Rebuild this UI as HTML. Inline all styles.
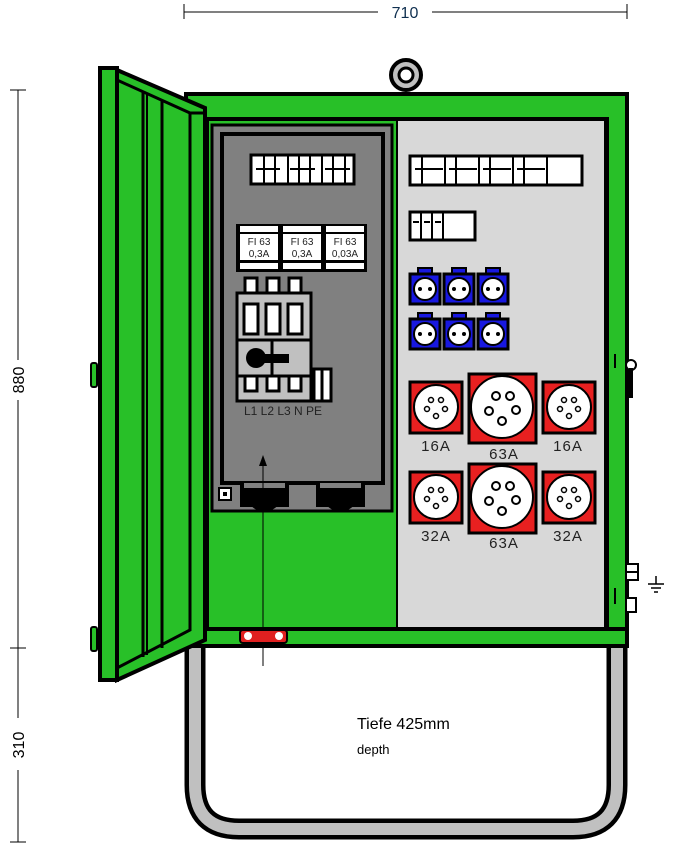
<!DOCTYPE html>
<html><head><style>html,body{margin:0;padding:0;background:#fff}svg{display:block}</style></head><body>
<svg width="674" height="848" viewBox="0 0 674 848" xmlns="http://www.w3.org/2000/svg" font-family="'Liberation Sans', sans-serif">
<!-- dimensions -->
<g stroke="#000" stroke-width="1">
<line x1="184" y1="12" x2="378" y2="12"/><line x1="432" y1="12" x2="627" y2="12"/>
<line x1="184" y1="4" x2="184" y2="19"/><line x1="627" y1="4" x2="627" y2="19"/>
<line x1="18" y1="90" x2="18" y2="360"/><line x1="18" y1="400" x2="18" y2="718"/><line x1="18" y1="770" x2="18" y2="842"/>
<line x1="10" y1="90" x2="26" y2="90"/><line x1="10" y1="648" x2="26" y2="648"/><line x1="10" y1="842" x2="26" y2="842"/>
</g>
<text x="405" y="18" font-size="16" text-anchor="middle" fill="#103050">710</text>
<text transform="translate(24,380) rotate(-90)" font-size="16" text-anchor="middle">880</text>
<text transform="translate(24,745) rotate(-90)" font-size="16" text-anchor="middle">310</text>
<!-- ring -->
<circle cx="406" cy="75" r="15" fill="#c0c0c0" stroke="#000" stroke-width="4"/>
<circle cx="406" cy="75" r="7" fill="#fff" stroke="#000" stroke-width="3"/>
<!-- bottom frame -->
<path d="M195 645 V785 Q195 829 239 829 H573 Q617 829 617 785 V645" fill="none" stroke="#000" stroke-width="21"/>
<path d="M195 645 V785 Q195 829 239 829 H573 Q617 829 617 785 V645" fill="none" stroke="#c0c0c0" stroke-width="12"/>
<!-- body -->
<rect x="186" y="94" width="441" height="552" fill="#28c028" stroke="#000" stroke-width="4"/>
<rect x="207" y="119" width="400" height="510" fill="#28c028" stroke="#000" stroke-width="4"/>
<rect x="397" y="120" width="208" height="508" fill="#d8d8d8" stroke="#000" stroke-width="2"/>
<line x1="186" y1="629" x2="627" y2="629" stroke="#000" stroke-width="4"/>
<line x1="607" y1="119" x2="607" y2="629" stroke="#000" stroke-width="4"/>
<!-- left gray panel -->
<rect x="212" y="125" width="180" height="386" fill="#808080" stroke="#000" stroke-width="3"/>
<rect x="222" y="134" width="161" height="349" fill="#808080" stroke="#000" stroke-width="4"/>
<!-- top breakers left -->
<rect x="251" y="155" width="103" height="29" fill="#fff" stroke="#000" stroke-width="3"/>
<g stroke="#000" stroke-width="2"><line x1="264" y1="155" x2="264" y2="184"/><line x1="275" y1="155" x2="275" y2="184"/><line x1="288" y1="155" x2="288" y2="184"/><line x1="299" y1="155" x2="299" y2="184"/><line x1="310" y1="155" x2="310" y2="184"/><line x1="322" y1="155" x2="322" y2="184"/><line x1="333" y1="155" x2="333" y2="184"/><line x1="345" y1="155" x2="345" y2="184"/>
<line x1="256" y1="169" x2="280" y2="169"/><line x1="290" y1="169" x2="315" y2="169"/><line x1="325" y1="169" x2="350" y2="169"/></g>
<!-- FI -->
<g>
<rect x="236" y="224" width="131" height="48" fill="#000"/>
<rect x="240" y="234" width="38" height="26" fill="#fff"/><rect x="283" y="234" width="38" height="26" fill="#fff"/><rect x="326" y="234" width="38" height="26" fill="#fff"/>
<g fill="#fff"><rect x="240" y="226" width="38" height="6"/><rect x="283" y="226" width="38" height="6"/><rect x="326" y="226" width="38" height="6"/><rect x="240" y="263" width="38" height="6"/><rect x="283" y="263" width="38" height="6"/><rect x="326" y="263" width="38" height="6"/></g>
<g font-size="10" text-anchor="middle" fill="#222"><text x="259" y="245">FI 63</text><text x="259" y="257">0,3A</text><text x="302" y="245">FI 63</text><text x="302" y="257">0,3A</text><text x="345" y="245">FI 63</text><text x="345" y="257">0,03A</text></g>
</g>
<!-- switch -->
<g stroke="#000" stroke-width="3">
<rect x="245" y="278" width="12" height="15" fill="#fff"/><rect x="267" y="278" width="12" height="15" fill="#fff"/><rect x="289" y="278" width="12" height="15" fill="#fff"/>
<rect x="237" y="293" width="74" height="108" fill="#c0c0c0"/>
<line x1="237" y1="340" x2="311" y2="340"/><line x1="237" y1="376" x2="311" y2="376"/><line x1="272" y1="340" x2="272" y2="376"/>
<rect x="244" y="304" width="14" height="30" fill="#fff"/><rect x="266" y="304" width="14" height="30" fill="#fff"/><rect x="288" y="304" width="14" height="30" fill="#fff"/>
<rect x="245" y="376" width="12" height="15" fill="#fff"/><rect x="267" y="376" width="12" height="15" fill="#fff"/><rect x="289" y="376" width="12" height="15" fill="#fff"/>
<rect x="314" y="369" width="17" height="32" fill="#fff"/><line x1="322" y1="369" x2="322" y2="401"/>
</g>
<circle cx="256" cy="358" r="10" fill="#000"/><rect x="256" y="354" width="33" height="9" fill="#000"/>
<text x="244" y="415" font-size="12" fill="#222">L1 L2 L3 N PE</text>
<!-- glands -->
<rect x="219" y="488" width="12" height="12" fill="#fff" stroke="#000" stroke-width="2"/><rect x="223" y="492" width="4" height="4" fill="#000"/>
<rect x="240" y="483" width="49" height="24" fill="#000"/><path d="M246 500 Q264 524 283 500Z" fill="#000"/>
<rect x="316" y="483" width="49" height="24" fill="#000"/><path d="M322 500 Q340 524 359 500Z" fill="#000"/>
<rect x="244" y="483" width="41" height="5" fill="#808080"/><rect x="320" y="483" width="41" height="5" fill="#808080"/>
<!-- arrow -->
<line x1="263" y1="462" x2="263" y2="666" stroke="#000" stroke-width="1"/>
<polygon points="263,455 259,466 267,466" fill="#000"/>
<!-- bottom red -->
<rect x="240" y="630" width="47" height="13" rx="3" fill="#e02020" stroke="#000" stroke-width="2"/>
<circle cx="248" cy="636" r="4" fill="#fff"/><circle cx="279" cy="636" r="4" fill="#fff"/>
<!-- right breakers -->
<rect x="410" y="156" width="172" height="29" fill="#fff" stroke="#000" stroke-width="3"/>
<g stroke="#000" stroke-width="2"><line x1="422" y1="156" x2="422" y2="185"/><line x1="445" y1="156" x2="445" y2="185"/><line x1="456" y1="156" x2="456" y2="185"/><line x1="479" y1="156" x2="479" y2="185"/><line x1="490" y1="156" x2="490" y2="185"/><line x1="513" y1="156" x2="513" y2="185"/><line x1="524" y1="156" x2="524" y2="185"/><line x1="547" y1="156" x2="547" y2="185"/>
<line x1="415" y1="169" x2="443" y2="169"/><line x1="449" y1="169" x2="477" y2="169"/><line x1="483" y1="169" x2="511" y2="169"/><line x1="517" y1="169" x2="545" y2="169"/></g>
<rect x="410" y="212" width="65" height="28" fill="#fff" stroke="#000" stroke-width="3"/>
<g stroke="#000" stroke-width="2"><line x1="421" y1="212" x2="421" y2="240"/><line x1="432" y1="212" x2="432" y2="240"/><line x1="443" y1="212" x2="443" y2="240"/><line x1="413" y1="222" x2="419" y2="222"/><line x1="424" y1="222" x2="430" y2="222"/><line x1="435" y1="222" x2="441" y2="222"/></g>
<!-- blue sockets -->
<g id="b">
<rect x="418" y="268" width="14" height="8" fill="#1818e0" stroke="#000" stroke-width="2"/>
<rect x="410" y="274" width="30" height="30" fill="#1818e0" stroke="#000" stroke-width="3"/>
<circle cx="425" cy="289" r="11" fill="#fff" stroke="#000" stroke-width="2"/>
<circle cx="420" cy="289" r="2" fill="#000"/><circle cx="430" cy="289" r="2" fill="#000"/>
</g>
<use href="#b" x="34"/><use href="#b" x="68"/>
<use href="#b" y="45"/><use href="#b" x="34" y="45"/><use href="#b" x="68" y="45"/>
<!-- red sockets small -->
<g id="s">
<rect x="410" y="382" width="52" height="51" fill="#e82020" stroke="#000" stroke-width="3"/>
<circle cx="436" cy="407" r="22" fill="#fff" stroke="#000" stroke-width="2"/>
<g fill="none" stroke="#000" stroke-width="1.5"><circle cx="431" cy="400" r="2.5"/><circle cx="441" cy="400" r="2.5"/><circle cx="427" cy="409" r="2.5"/><circle cx="445" cy="409" r="2.5"/><circle cx="436" cy="416" r="2.5"/></g>
</g>
<use href="#s" x="133"/><use href="#s" y="90"/><use href="#s" x="133" y="90"/>
<g id="l">
<rect x="469" y="374" width="67" height="69" fill="#e82020" stroke="#000" stroke-width="3"/>
<circle cx="502" cy="407" r="31" fill="#fff" stroke="#000" stroke-width="2"/>
<g fill="none" stroke="#000" stroke-width="2"><circle cx="496" cy="396" r="4"/><circle cx="510" cy="396" r="4"/><circle cx="489" cy="411" r="4"/><circle cx="516" cy="410" r="4"/><circle cx="502" cy="421" r="4"/></g>
</g>
<use href="#l" y="90"/>
<g font-size="15" text-anchor="middle" fill="#222" letter-spacing="1">
<text x="436" y="451">16A</text><text x="504" y="459">63A</text><text x="568" y="451">16A</text>
<text x="436" y="541">32A</text><text x="504" y="548">63A</text><text x="568" y="541">32A</text>
</g>
<!-- right side fittings -->
<line x1="615" y1="354" x2="615" y2="368" stroke="#000" stroke-width="2"/>
<circle cx="631" cy="365" r="5" fill="#fff" stroke="#000" stroke-width="2"/>
<rect x="629" y="368" width="4" height="30" fill="#000"/>
<line x1="615" y1="588" x2="615" y2="604" stroke="#000" stroke-width="2"/>
<rect x="626" y="564" width="12" height="16" fill="#fff" stroke="#000" stroke-width="2"/><line x1="626" y1="572" x2="638" y2="572" stroke="#000" stroke-width="2"/>
<rect x="626" y="598" width="10" height="14" fill="#fff" stroke="#000" stroke-width="2"/>
<g stroke="#000" stroke-width="1.5"><line x1="656" y1="576" x2="656" y2="584"/><line x1="648" y1="584" x2="664" y2="584"/><line x1="651" y1="588" x2="661" y2="588"/><line x1="654" y1="592" x2="658" y2="592"/></g>
<!-- door -->
<polygon points="117,70 205,108 205,640 117,680" fill="#28c028" stroke="#000" stroke-width="4"/>
<polygon points="117,80 190,113 190,630 117,668" fill="#28c028" stroke="#000" stroke-width="3"/>
<line x1="143" y1="92" x2="143" y2="657" stroke="#000" stroke-width="3"/>
<line x1="147" y1="94" x2="147" y2="655" stroke="#000" stroke-width="2"/>
<line x1="162" y1="100" x2="162" y2="648" stroke="#000" stroke-width="3"/>
<line x1="190" y1="113" x2="205" y2="113" stroke="#000" stroke-width="3"/>
<rect x="100" y="68" width="17" height="612" fill="#28c028" stroke="#000" stroke-width="4"/>
<rect x="91" y="363" width="6" height="24" rx="2" fill="#28c028" stroke="#000" stroke-width="2"/>
<rect x="91" y="627" width="6" height="24" rx="2" fill="#28c028" stroke="#000" stroke-width="2"/>
<!-- text -->
<text x="357" y="729" font-size="16" fill="#000">Tiefe 425mm</text>
<text x="357" y="754" font-size="13" fill="#000">depth</text>
</svg>
</body></html>
